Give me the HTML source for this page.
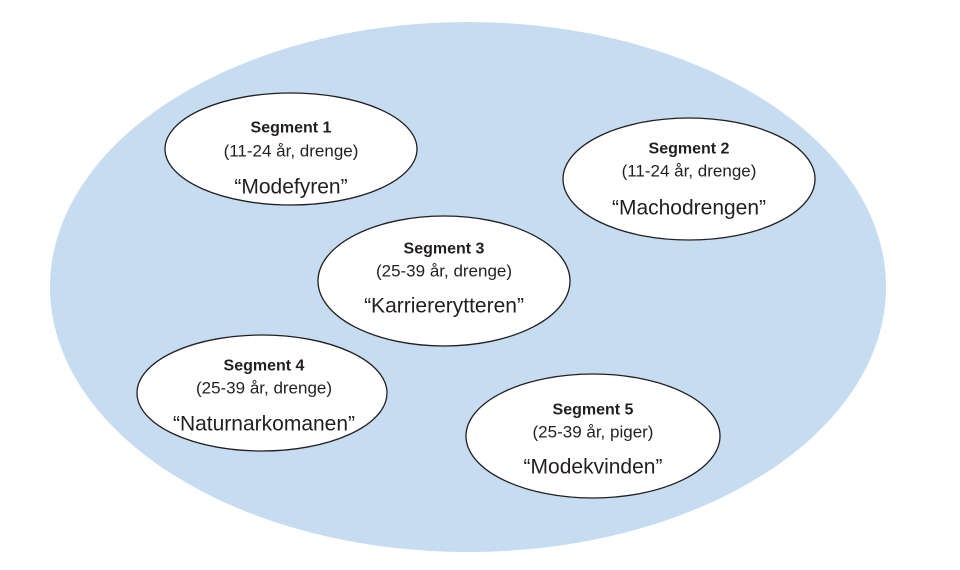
<!DOCTYPE html>
<html><head><meta charset="utf-8"><style>
html,body{margin:0;padding:0;background:#fff;width:960px;height:570px;overflow:hidden}
text{font-family:"Liberation Sans",sans-serif;fill:#231f20;text-anchor:middle;dominant-baseline:central}
.t{font-weight:bold;font-size:16px}
.s{font-size:17px}
.n{font-size:21px}
</style></head><body>
<svg width="960" height="570" xmlns="http://www.w3.org/2000/svg">
<ellipse cx="468" cy="287" rx="418" ry="265" fill="#c6dcf1"/>
<g fill="#fff" stroke="#231f20" stroke-width="1.3">
<ellipse cx="291" cy="149" rx="126" ry="56"/>
<ellipse cx="689" cy="179" rx="126" ry="61"/>
<ellipse cx="444" cy="281" rx="126" ry="65"/>
<ellipse cx="262" cy="393" rx="125" ry="58"/>
<ellipse cx="593" cy="436" rx="127" ry="62"/>
</g>
<text class="t" x="291" y="128">Segment 1</text>
<text class="s" x="291" y="151">(11-24 år, drenge)</text>
<text class="n" x="291" y="187">“Modefyren”</text>
<text class="t" x="689" y="149">Segment 2</text>
<text class="s" x="689" y="171">(11-24 år, drenge)</text>
<text class="n" x="689" y="208">“Machodrengen”</text>
<text class="t" x="444" y="249">Segment 3</text>
<text class="s" x="444" y="271">(25-39 år, drenge)</text>
<text class="n" x="444" y="306">“Karriererytteren”</text>
<text class="t" x="264" y="366">Segment 4</text>
<text class="s" x="264" y="388">(25-39 år, drenge)</text>
<text class="n" x="264" y="424">“Naturnarkomanen”</text>
<text class="t" x="593" y="410">Segment 5</text>
<text class="s" x="593" y="432">(25-39 år, piger)</text>
<text class="n" x="593" y="467">“Modekvinden”</text>
</svg>
</body></html>
